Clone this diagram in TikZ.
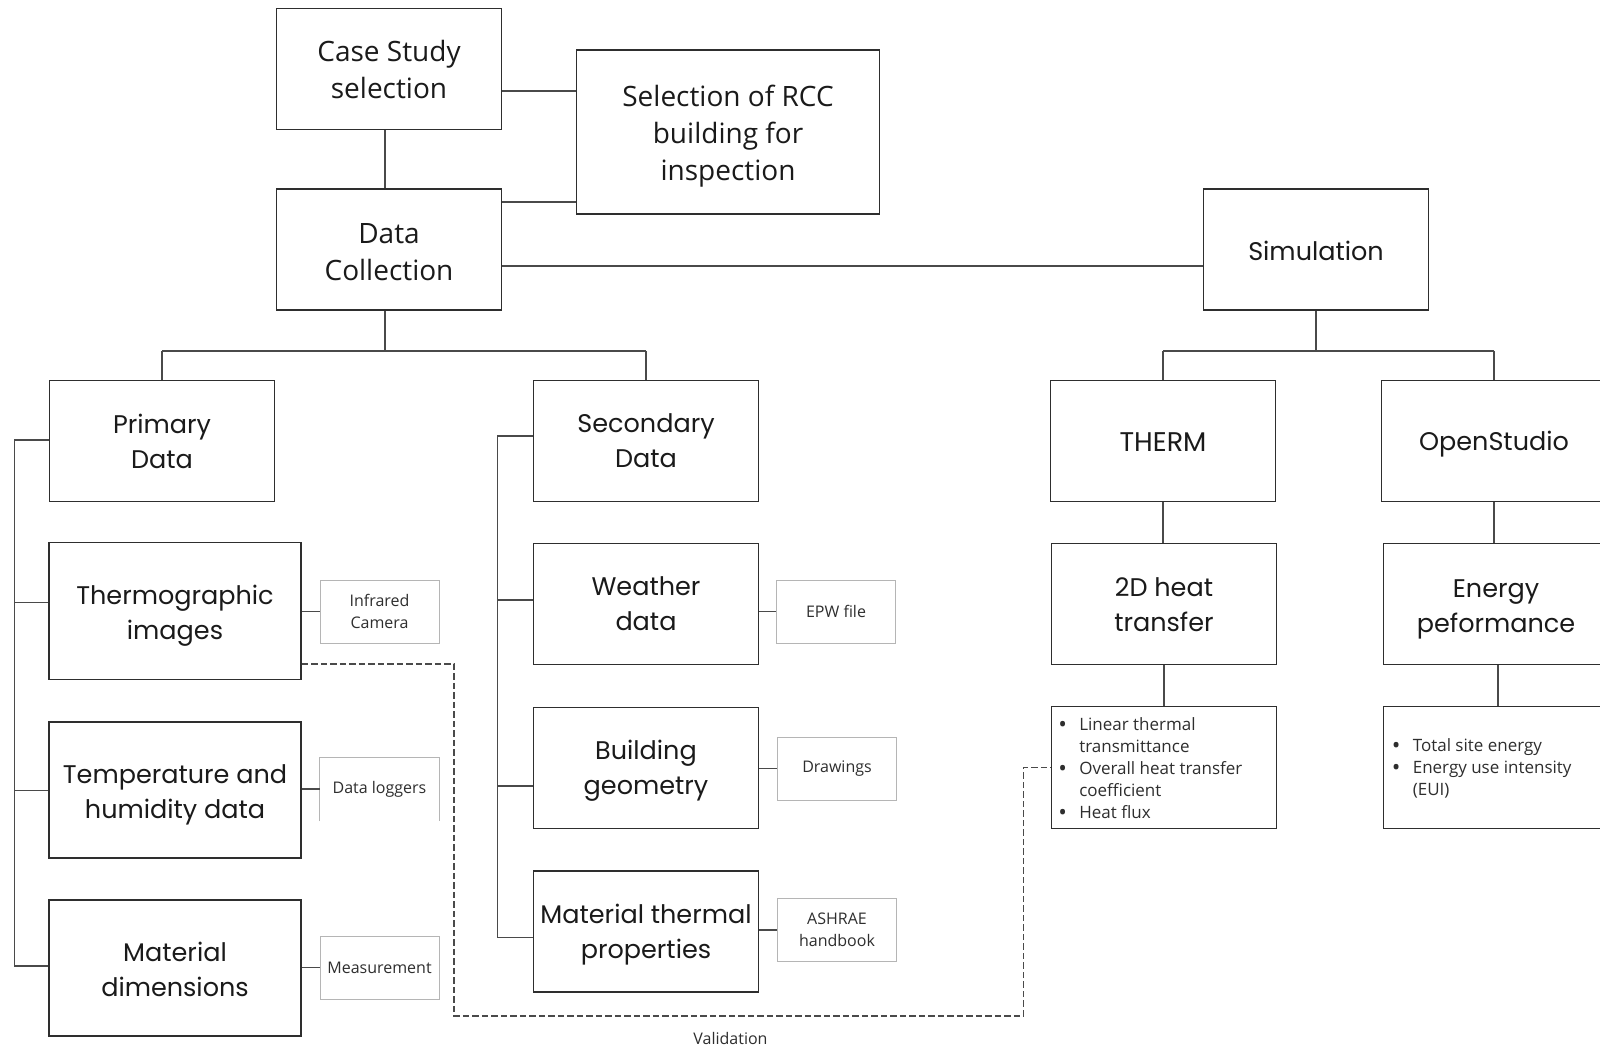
\documentclass[tikz,border=0pt]{standalone}
\usepackage{fontspec}
\setmainfont{Poppins}
\newfontfamily\topfont{Open Sans}
\newfontfamily\smallfont{Open Sans}
\usetikzlibrary{calc}
\definecolor{boxc}{HTML}{2E2E2E}
\definecolor{connc}{HTML}{4A4A4A}
\definecolor{smallc}{HTML}{B5B5B5}
\definecolor{txt}{HTML}{1A1A1A}
\definecolor{stxt}{HTML}{2E2E2E}
\tikzset{
  bigbox/.style={draw=boxc, line width=1.8pt, inner sep=0pt,
    minimum width=225pt, minimum height=121pt},
  bigbox text/.style={inner sep=0pt, align=center, text=txt, font=\fontsize{25.5}{35}\selectfont},
  topbox/.style={bigbox},
  topbox text/.style={inner sep=0pt, align=center, text=txt, font=\topfont\fontsize{28}{37}\selectfont},
  tallbox/.style={bigbox, minimum width=252pt, minimum height=136pt},
  tallbox text/.style={bigbox text},
  smallbox/.style={draw=smallc, line width=1pt, inner sep=0pt, align=center, text=stxt,
    minimum width=119pt, minimum height=63pt, font=\smallfont\fontsize{16}{21.5}\selectfont},
  conn/.style={draw=connc, line width=1.6pt},
  valid/.style={draw=connc, line width=1.4pt, dash pattern=on 6.5pt off 3pt},
  listtext/.style={inner sep=0pt, anchor=north west, text=stxt, font=\smallfont\fontsize{17}{22}\selectfont},
}
% box with separately placed text: [text yshift]{style}{name}{position}{text}
\newcommand\tbox[5][0pt]{%
  \node[#2] (#3) at (#4) {};
  \node[#2 text] (#3t) at ([yshift=#1]#3.center) {#5};}
\newcommand\bul{\raisebox{-0.12em}{\scalebox{1.35}{\textbullet}}}
\begin{document}
\begin{tikzpicture}[x=1pt,y=-1pt]
\fill[white] (0,0) rectangle (1600,1050);
\useasboundingbox (0,0) rectangle (1600,1050);

% top
\tbox{topbox}{cs}{389,69}{Case Study\\selection}
\node[bigbox, minimum width=303pt, minimum height=164pt] (rcc) at (728,132) {};
\node[topbox text] (rcct) at ([yshift=-4pt]rcc.center) {Selection of RCC\\building for\\inspection};
\tbox[-2.5pt]{topbox}{dc}{389,249.5}{Data\\Collection}
\tbox[-1pt]{bigbox}{sim}{1316,249.5}{Simulation}

% primary column
\tbox{bigbox}{prim}{162,441}{Primary\\Data}
\node[tallbox, minimum height=137pt] (thermo) at (175,611) {};
\node[tallbox text] (thermot) at ([yshift=-5pt]thermo.center) {Thermographic\\images};
\tbox[-4.5pt]{tallbox}{temp}{175,790}{Temperature and\\humidity data}
\tbox[-1.5pt]{tallbox}{matdim}{175,968}{Material\\dimensions}
\node[smallbox] (irc) at (379.5,611.5) {Infrared\\Camera};
\node[smallbox, draw=none] (dl) at (379.5,789) {Data loggers};
\draw[smallc, line width=1pt] (dl.south west) -- (dl.north west) -- (dl.north east) -- (dl.south east);
\node[smallbox] (meas) at (379.5,967.5) {Measurement};

% secondary column
\tbox{bigbox}{sec}{646,441}{Secondary\\Data}
\tbox{bigbox}{weather}{646,604}{Weather\\data}
\tbox[-3pt]{bigbox}{bldg}{646,768}{Building\\geometry}
\tbox[-3pt]{bigbox}{mtp}{646,931.5}{Material thermal\\properties}
\node[smallbox] (epw) at (836,611.5) {EPW file};
\node[smallbox] (drw) at (837,768.5) {Drawings};
\node[smallbox] (ash) at (837,930) {ASHRAE\\handbook};

% simulation column
\node[bigbox] (therm) at (1163,441) {};
\node[bigbox text, font=\fontsize{27}{35}\selectfont] (thermt) at ([yshift=-1pt]therm.center) {THERM};
\tbox[-3pt]{bigbox}{opens}{1494,441}{OpenStudio}
\tbox[-1pt]{bigbox}{heat}{1164,604}{2D heat\\transfer}
\tbox[-5pt]{bigbox}{energy}{1496,604}{Energy\\peformance}
\node[bigbox, minimum height=122pt] (b1) at (1164,767.5) {};
\node[bigbox, minimum height=122pt] (b2) at (1496,767.5) {};
\node[listtext] (l1) at ($(b1.north west)+(7.5,9.5)$) {%
\begin{tabular}{@{}p{21pt}@{}l@{}}
\bul & Linear thermal\\
 & transmittance\\
\bul & Overall heat transfer\\
 & coefficient\\
\bul & Heat flux
\end{tabular}};
\node[listtext] (l2) at ($(b2.north west)+(9,30)$) {%
\begin{tabular}{@{}p{21pt}@{}l@{}}
\bul & Total site energy\\
\bul & Energy use intensity\\
 & (EUI)
\end{tabular}};

% connectors top
\path ($(cs.east)+(0,22)$) coordinate (k1)
      ($(dc.east)+(0,-47.5)$) coordinate (k2)
      ($(dc.east)+(0,16.5)$) coordinate (k3);
\draw[conn] (k1) -- (k1 -| rcc.west);
\draw[conn] (k2) -- (k2 -| rcc.west);
\draw[conn] (k3) -- (k3 -| sim.west);
\draw[conn] ([xshift=-4pt]cs.south) -- ([xshift=-4pt]dc.north);
\draw[conn] ([xshift=-4pt]dc.south) -- ++(0,40) coordinate (bus1);
\draw[conn] (bus1 -| prim.north) -- (bus1 -| sec.north);
\draw[conn] (bus1 -| prim.north) -- (prim.north);
\draw[conn] (bus1 -| sec.north) -- (sec.north);

\draw[conn] (sim.south) -- ++(0,40) coordinate (bus2);
\draw[conn] (bus2 -| therm.north) -- (bus2 -| opens.north);
\draw[conn] (bus2 -| therm.north) -- (therm.north);
\draw[conn] (bus2 -| opens.north) -- (opens.north);
\draw[conn] (therm.south) -- (therm.south |- heat.north);
\draw[conn] (heat.south) -- (heat.south |- b1.north);
\draw[conn] (opens.south) -- (opens.south |- energy.north);
\draw[conn] ([xshift=2pt]energy.south) -- ([xshift=2pt]energy.south |- b2.north);

% left spine
\path ($(prim.west)+(-34,-1)$) coordinate (sp)
      ($(thermo.west)+(0,-8.5)$) coordinate (t1)
      ($(temp.west)+(0,0.5)$) coordinate (t2)
      ($(matdim.west)+(0,-2)$) coordinate (t3);
\draw[conn] ($(prim.west)+(0,-1)$) -- (sp) -- (sp |- t3) -- (t3);
\draw[conn] (t1 -| sp) -- (t1);
\draw[conn] (t2 -| sp) -- (t2);
\draw[conn] (thermo.east |- irc.west) -- (irc.west);
\draw[conn] (temp.east |- dl.west) -- (dl.west);
\draw[conn] (matdim.east |- meas.west) -- (meas.west);

% secondary spine
\path ($(sec.west)+(-35,-5)$) coordinate (sp2)
      ($(weather.west)+(0,-4)$) coordinate (u1)
      ($(bldg.west)+(0,18)$) coordinate (u2)
      ($(mtp.west)+(0,6)$) coordinate (u3);
\draw[conn] ($(sec.west)+(0,-5)$) -- (sp2) -- (sp2 |- u3) -- (u3);
\draw[conn] (u1 -| sp2) -- (u1);
\draw[conn] (u2 -| sp2) -- (u2);
\draw[conn] (weather.east |- epw.west) -- (epw.west);
\draw[conn] (bldg.east |- drw.west) -- (drw.west);
\draw[conn] (mtp.east |- ash.west) -- (ash.west);

% validation
\path ($(thermo.east)+(0,53)$) coordinate (v0)
      (454,1016) coordinate (v1)
      (1023.5,1016) coordinate (v2);
\draw[valid] (v0) -| (v1) -- (v2) |- (b1.west);
\node[text=stxt, font=\smallfont\fontsize{16}{19}\selectfont] (val) at (730.5,1038) {Validation};
\end{tikzpicture}
\end{document}
